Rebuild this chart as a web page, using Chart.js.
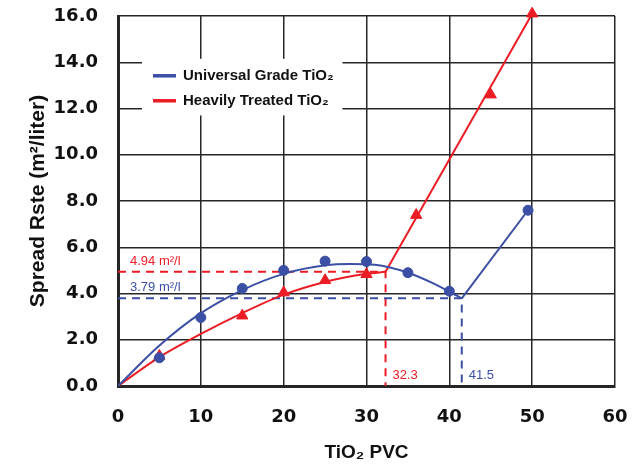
<!DOCTYPE html>
<html>
<head>
<meta charset="utf-8">
<script src="https://cdn.jsdelivr.net/npm/chart.js@4"></script>
<style>
  html, body { margin: 0; padding: 0; background: #fff; }
  #wrap { width: 643px; height: 468px; }
</style>
</head>
<body>
<div id="wrap"><canvas id="spreadChart" width="643" height="468"></canvas></div>
<script>
// measured points
const universalX = [5, 10, 15, 20, 25, 30, 35, 40, 49.5];
const universalY = [1.22, 2.96, 4.22, 5.0, 5.4, 5.38, 4.9, 4.1, 7.6];
const treatedX = [5, 15, 20, 25, 30, 36, 45, 50];
const treatedY = [1.3, 3.04, 4.04, 4.57, 4.83, 7.39, 12.6, 16.1];

// fitted curves (below CPVC) and the straight runs above it
const universalFitX = [0, 5, 10, 15, 20, 25, 28, 31, 35, 38, 41.5];
const universalFitY = [0, 1.75, 3.15, 4.15, 4.85, 5.22, 5.28, 5.24, 4.9, 4.45, 3.79];
const universalRiseX = [41.5, 49.5];
const universalRiseY = [3.79, 7.6];
const treatedFitX = [0, 5, 10, 15, 20, 25, 30, 32.3];
const treatedFitY = [0, 1.25, 2.25, 3.15, 3.95, 4.5, 4.85, 4.94];
const treatedRiseX = [32.3, 50];
const treatedRiseY = [4.94, 16.1];

// CPVC guide values
const cpvcX = [41.5, 32.3];
const cpvcY = [3.79, 4.94];

const xTicks = [0, 10, 20, 30, 40, 50, 60];
const yTicks = [0, 2, 4, 6, 8, 10, 12, 14, 16];

const BLUE = '#3b4fa4';
const RED = '#ec1c24';
const GRID = '#262626';

const pts = (xs, ys) => xs.map((x, i) => ({ x: x, y: ys[i] }));

// white box with the two series keys
const legendBox = {
    id: 'legendBox',
    beforeDatasetsDraw(chart) {
        const ctx = chart.ctx;
        const xs = chart.scales.x, ys = chart.scales.y;
        const left = xs.getPixelForValue(2.9), right = xs.getPixelForValue(27.1);
        const top = ys.getPixelForValue(14.15), bottom = ys.getPixelForValue(11.7);
        ctx.save();
        ctx.fillStyle = '#fff';
        ctx.fillRect(left, top, right - left, bottom - top);
        const keys = chart.data.datasets.filter(d => d.showKey);
        ctx.font = 'bold 15px "Liberation Sans", Arial, sans-serif';
        ctx.textBaseline = 'middle';
        keys.forEach((d, i) => {
            const y = top + 17 + i * 25;
            ctx.strokeStyle = d.borderColor;
            ctx.lineWidth = 3.5;
            ctx.beginPath();
            ctx.moveTo(left + 11, y);
            ctx.lineTo(left + 34, y);
            ctx.stroke();
            ctx.fillStyle = '#111';
            ctx.fillText(d.label, left + 41, y);
        });
        ctx.restore();
    }
};

// value labels on the dashed CPVC guides
const guideLabels = {
    id: 'guideLabels',
    afterDatasetsDraw(chart) {
        const ctx = chart.ctx;
        const xs = chart.scales.x, ys = chart.scales.y;
        const colors = [BLUE, RED];
        ctx.save();
        ctx.font = '13px "Liberation Sans", Arial, sans-serif';
        ctx.textBaseline = 'alphabetic';
        cpvcX.forEach((cx, i) => {
            ctx.fillStyle = colors[i];
            ctx.textAlign = 'left';
            ctx.fillText(cpvcY[i].toFixed(2) + ' m²/l', xs.getPixelForValue(0) + 12, ys.getPixelForValue(cpvcY[i]) - 7);
            ctx.fillText(cx.toFixed(1), xs.getPixelForValue(cx) + 7, ys.getPixelForValue(0) - 7);
        });
        ctx.restore();
    }
};

const ctx = document.getElementById('spreadChart').getContext('2d');

new Chart(ctx, {
    type: 'scatter',
    data: {
        datasets: [
            {
                label: 'Universal Grade TiO₂',
                showKey: true,
                data: pts(universalX, universalY),
                backgroundColor: BLUE,
                borderColor: BLUE,
                pointStyle: 'circle',
                pointRadius: 5,
                clip: false,
                order: 1
            },
            {
                label: 'Heavily Treated TiO₂',
                showKey: true,
                data: pts(treatedX, treatedY),
                backgroundColor: RED,
                borderColor: RED,
                pointStyle: 'triangle',
                pointRadius: 6.5,
                clip: false,
                order: 1
            },
            {
                type: 'line',
                data: pts(universalFitX, universalFitY),
                borderColor: BLUE,
                borderWidth: 2,
                pointRadius: 0,
                cubicInterpolationMode: 'monotone',
                order: 2
            },
            {
                type: 'line',
                data: pts(universalRiseX, universalRiseY),
                borderColor: BLUE,
                borderWidth: 2,
                pointRadius: 0,
                order: 2
            },
            {
                type: 'line',
                data: pts(treatedFitX, treatedFitY),
                borderColor: RED,
                borderWidth: 2,
                pointRadius: 0,
                cubicInterpolationMode: 'monotone',
                order: 2
            },
            {
                type: 'line',
                data: pts(treatedRiseX, treatedRiseY),
                borderColor: RED,
                borderWidth: 2,
                pointRadius: 0,
                clip: false,
                order: 2
            },
            {
                type: 'line',
                data: [{ x: 0, y: cpvcY[0] }, { x: cpvcX[0], y: cpvcY[0] }, { x: cpvcX[0], y: 0 }],
                borderColor: BLUE,
                borderWidth: 2,
                borderDash: [8, 6],
                pointRadius: 0,
                order: 3
            },
            {
                type: 'line',
                data: [{ x: 0, y: cpvcY[1] }, { x: cpvcX[1], y: cpvcY[1] }, { x: cpvcX[1], y: 0 }],
                borderColor: RED,
                borderWidth: 2,
                borderDash: [8, 6],
                pointRadius: 0,
                order: 3
            }
        ]
    },
    options: {
        responsive: false,
        animation: false,
        devicePixelRatio: 1,
        layout: { padding: { left: 0, right: 28, top: 16, bottom: 0 } },
        plugins: {
            legend: { display: false },
            tooltip: { enabled: false }
        },
        scales: {
            x: {
                type: 'linear',
                min: 0,
                max: 60,
                afterBuildTicks: s => { s.ticks = xTicks.map(v => ({ value: v })); },
                afterFit: s => { s.height = 82; s.paddingLeft = 0; s.paddingRight = 0; },
                grid: { color: GRID, lineWidth: 1.5, drawTicks: false },
                border: { color: GRID, width: 3 },
                ticks: {
                    color: '#111',
                    padding: 21,
                    font: { family: '"DejaVu Sans", sans-serif', weight: 'bold', size: 18 }
                },
                title: {
                    display: true,
                    text: 'TiO₂ PVC',
                    color: '#111',
                    padding: { top: 0, bottom: 4 },
                    font: { family: '"Liberation Sans", Arial, sans-serif', weight: 'bold', size: 19 }
                }
            },
            y: {
                min: 0,
                max: 16,
                afterBuildTicks: s => { s.ticks = yTicks.map(v => ({ value: v })); },
                afterFit: s => { s.width = 118; s.paddingTop = 0; s.paddingBottom = 0; },
                grid: { color: GRID, lineWidth: 1.5, drawTicks: false },
                border: { color: GRID, width: 3 },
                ticks: {
                    color: '#111',
                    padding: 20,
                    callback: v => v.toFixed(1),
                    font: { family: '"DejaVu Sans", sans-serif', weight: 'bold', size: 18 }
                },
                title: {
                    display: true,
                    text: 'Spread Rste (m²/liter)',
                    color: '#111',
                    padding: { top: 26, bottom: 0 },
                    font: { family: '"Liberation Sans", Arial, sans-serif', weight: 'bold', size: 21 }
                }
            }
        }
    },
    plugins: [legendBox, guideLabels]
});
</script>
</body>
</html>
